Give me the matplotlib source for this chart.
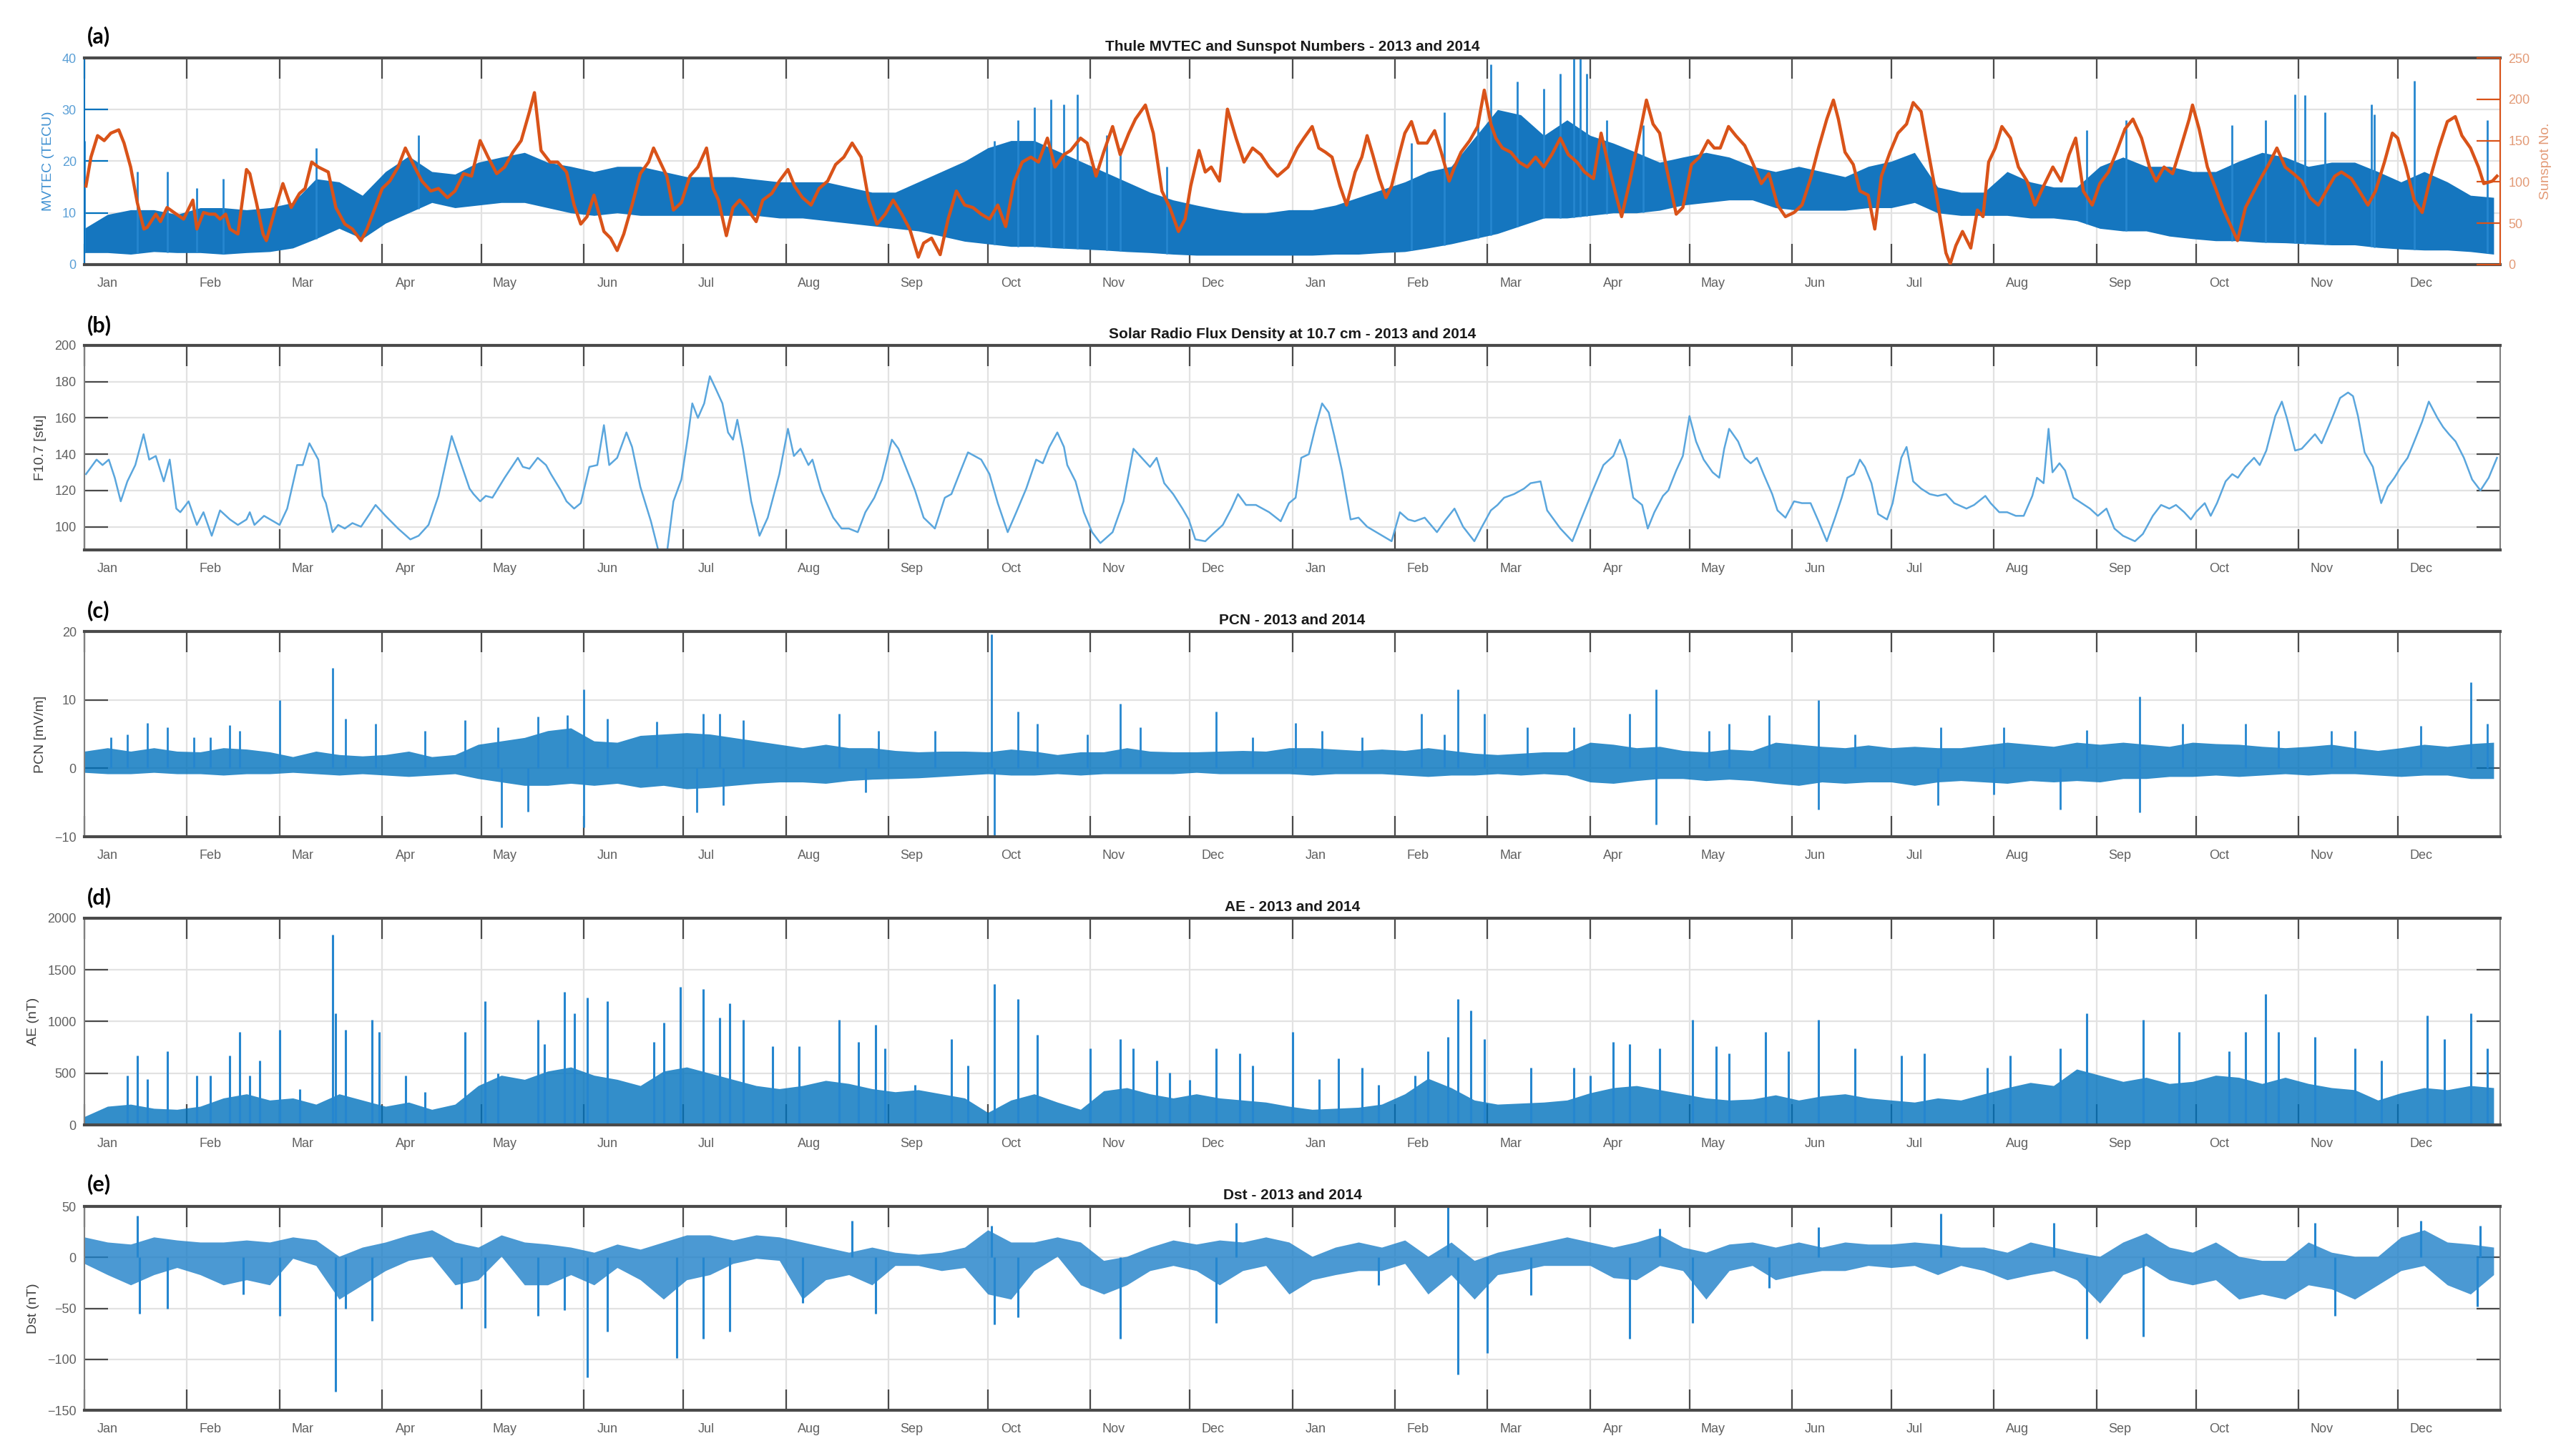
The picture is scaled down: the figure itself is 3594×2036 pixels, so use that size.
"""Thule MVTEC / sunspots, F10.7, PCN, AE and Dst for 2013-2014 (five stacked panels).

    python plot.py   ->  out.png
"""

import numpy as np
import matplotlib
matplotlib.use("Agg")
import matplotlib.pyplot as plt

# x values are days since 2013-01-01
MONTH_NAMES = ["Jan", "Feb", "Mar", "Apr", "May", "Jun",
               "Jul", "Aug", "Sep", "Oct", "Nov", "Dec"] * 2

# ---- (a) MVTEC: weekly envelope of the hourly trace (TECU) + isolated spikes
tec_hi = [7, 9.7, 10.6, 10.6, 9.7, 11, 11, 10.6, 11, 12,
          16.6, 16, 13.4, 18, 21, 18, 17.5, 19.8, 20.8, 21.7,
          19.8, 19, 18, 19, 19, 18, 17, 17, 17, 16.5,
          16, 16, 16, 15, 14, 14, 16, 18, 20, 22.6,
          24, 24, 22, 20, 18, 16, 14, 12.5, 11.5, 10.6,
          10, 10,
          10.6, 10.6, 11.5, 13, 14.5, 16, 18, 19, 24.5, 30,
          29, 25, 28, 25, 23.5, 21.7, 19.8, 20.8, 21.7, 20.8,
          19, 18, 19, 18, 17, 19, 20, 21.7, 15, 14,
          14, 18, 16, 15, 15, 19, 20.8, 19, 19, 18,
          18, 20, 21.7, 20.8, 19, 19.8, 19.8, 18, 16, 18,
          16, 13.4, 13]
tec_lo = [2.3, 2.3, 2, 2.5, 2.3, 2.3, 2, 2.3, 2.5, 3.2,
          5, 7, 5, 8, 10, 12, 11, 11.5, 12, 12,
          11, 10, 9.5, 10, 9.5, 9.5, 9.5, 9.5, 9.5, 9.5,
          9, 9, 8.5, 8, 7.5, 7, 6.5, 5.5, 4.5, 4,
          3.5, 3.5, 3.2, 3, 2.8, 2.5, 2.3, 2, 1.8, 1.8,
          1.8, 1.8,
          1.8, 1.8, 2, 2, 2.3, 2.5, 3.2, 4, 5, 6,
          7.5, 9, 9, 9.5, 10, 10, 10.5, 11.5, 12, 12.5,
          12.5, 11, 10.5, 10.5, 10.5, 11, 11, 12, 10, 9.5,
          9.5, 9.5, 9, 9, 8.5, 7, 6.5, 6.5, 5.5, 5,
          4.6, 4.6, 4.3, 4.2, 4, 3.8, 3.8, 3.3, 3, 2.8,
          2.8, 2.5, 2]
tec_spike_day = [0, 16, 25, 34, 42, 70, 101, 275, 282, 287,
                 292, 296, 300, 309, 313, 327, 401, 411, 421, 425,
                 433, 441, 446, 450, 452, 454, 460, 471, 605, 617,
                 649, 659, 668, 671, 677, 691, 692, 704, 726]
tec_spike_val = [24, 18, 18, 14.8, 16.6, 22.6, 25, 24, 28, 30.5,
                 32, 31, 33, 25, 22.6, 19, 23.5, 29.5, 27, 38.8,
                 35.5, 34, 37, 40, 40, 37, 28, 27, 26, 28,
                 27, 28, 33, 32.8, 29.5, 31, 29, 35.6, 28]

# ---- (a) sunspot number (right axis)
ssn_day = [0.5, 2, 4, 6, 8, 10.4, 12, 14, 16, 18,
           19, 21.6, 23, 25, 27.8, 30, 32.8, 34, 36, 37.7,
           39.5, 41, 42.7, 44, 46.4, 49, 50, 52, 54, 55,
           57.6, 60, 62.5, 65, 66.7, 68.7, 70.7, 73.7, 76, 78.7,
           81, 83.6, 85.4, 87.3, 90, 92.3, 94.8, 97, 99.8, 102,
           104.7, 107, 109.7, 112, 114.6, 117, 119.6, 122, 124.6, 127,
           129.5, 132, 134.5, 136, 138, 140.7, 143, 145.7, 148, 150,
           151.9, 154, 157, 159, 161, 163, 165.5, 168, 170.5, 172,
           174, 176, 178, 180.4, 183, 185.4, 188, 190, 191.6, 194,
           196, 198, 200, 203, 205, 207.7, 210, 212.6, 214.6, 217,
           219.6, 222, 224.6, 227, 229.5, 232, 234.7, 237, 239.5, 242,
           244.4, 247, 249.4, 252, 253.6, 256, 258.6, 261, 263.5, 266,
           268.5, 271, 273.5, 276, 278.4, 281, 283.4, 286, 288.3, 291,
           293.3, 296, 298, 301, 303, 305.7, 308, 310.7, 313, 315.6,
           317.6, 320.6, 323, 325.6, 328, 330.6, 332.6, 334.3, 336.8, 338.7,
           340.5, 343, 345.4, 348, 350.4, 353, 355.5, 358, 360.5, 363.7,
           366.5, 368.5, 371, 373, 375, 377, 379.4, 381.4, 384, 386,
           387.6, 389.3, 391.3, 393.3, 395, 397.5, 399, 401, 403, 405.7,
           408, 410, 412.4, 414, 416, 418.6, 421, 423, 425, 426.5,
           428.5, 431, 433.5, 436, 438.5, 441, 443.4, 446, 448.4, 451,
           453.3, 456, 458.3, 460.3, 462.8, 464.5, 467, 470, 472, 474,
           476, 478, 481, 483, 485.6, 488, 490.6, 492.5, 494.3, 496.8,
           499, 501.7, 504, 506.7, 509, 511.6, 514, 516.6, 519, 521.6,
           524, 526.5, 528.5, 530, 532, 534.5, 536.5, 539, 541, 543,
           545.6, 548, 550.6, 552.6, 555, 557.6, 560, 562.5, 563.8, 565.5,
           567.5, 570, 572, 573.7, 575.4, 577.4, 579.4, 582, 584.4, 587,
           589.4, 592, 594.8, 597.3, 599.7, 601.7, 604, 606.7, 609, 611.6,
           614, 616.6, 619, 621.6, 624, 626, 628.4, 631, 633.4, 636,
           637, 639, 641.5, 644, 646.4, 649, 650.6, 653, 655.6, 658,
           660, 662.5, 665, 667.5, 670, 672.5, 675, 677.4, 680, 682,
           685, 687.4, 690, 692.3, 695, 697.4, 699, 701.5, 704, 706.4,
           709, 711.4, 714, 716.4, 718.4, 721, 723.4, 725, 727.6, 729]
ssn_val = [95, 130, 156, 150, 159, 163, 147, 118, 75, 43,
           45, 61, 52, 69, 61, 55, 78, 43, 63, 61,
           61, 55, 61, 43, 37, 115, 110, 75, 37, 29,
           66, 98, 69, 86, 92, 124, 118, 112, 69, 49,
           43, 29, 43, 63, 92, 101, 118, 141, 118, 101,
           89, 92, 81, 89, 110, 107, 150, 130, 110, 118,
           136, 150, 185, 208, 138, 124, 124, 112, 72, 49,
           58, 84, 40, 32, 17, 37, 72, 110, 124, 141,
           124, 107, 66, 75, 107, 118, 141, 92, 78, 35,
           69, 78, 69, 52, 78, 86, 101, 115, 95, 81,
           72, 92, 101, 121, 130, 147, 130, 78, 49, 61,
           78, 61, 43, 9, 26, 32, 12, 55, 89, 72,
           69, 61, 55, 72, 46, 101, 124, 130, 124, 153,
           118, 133, 138, 153, 147, 107, 136, 167, 133, 159,
           176, 193, 159, 89, 69, 40, 55, 95, 138, 112,
           118, 101, 188, 153, 124, 141, 133, 118, 107, 118,
           141, 153, 167, 141, 136, 130, 95, 72, 112, 130,
           156, 133, 104, 81, 95, 136, 159, 173, 147, 147,
           162, 136, 101, 118, 136, 150, 167, 211, 170, 153,
           141, 136, 124, 118, 130, 118, 133, 153, 133, 124,
           112, 104, 159, 124, 84, 58, 101, 159, 199, 170,
           159, 118, 61, 69, 121, 130, 150, 141, 141, 167,
           156, 144, 124, 98, 110, 72, 58, 63, 72, 104,
           141, 176, 199, 176, 136, 121, 89, 84, 43, 107,
           136, 159, 170, 196, 185, 127, 75, 14, 1, 23,
           40, 20, 66, 58, 124, 141, 167, 153, 118, 101,
           72, 95, 118, 101, 133, 153, 89, 72, 98, 112,
           136, 164, 176, 153, 118, 101, 118, 110, 141, 176,
           193, 164, 118, 92, 66, 43, 29, 69, 89, 107,
           121, 141, 118, 110, 101, 81, 72, 89, 107, 112,
           104, 89, 72, 89, 124, 159, 153, 118, 78, 63,
           107, 141, 173, 179, 156, 141, 118, 98, 101, 107]

# ---- (b) F10.7 solar radio flux (sfu)
f107_day = [0.5, 3.7, 5.5, 7.4, 9.2, 11, 13, 15.4, 17.9, 19.6,
            21.6, 24, 25.8, 27.8, 29, 31.5, 34, 36, 38.5, 41,
            44, 46.4, 49, 50, 51.4, 54.3, 59, 61.3, 64.3, 66,
            68, 70.7, 72, 73, 75, 76.7, 78.7, 81, 83.6, 88,
            91, 94.8, 98.5, 101, 104, 107, 111, 113.4, 116.4, 117.6,
            119.6, 121.3, 123.3, 127, 131, 132.5, 134.5, 137, 139.5, 141,
            144, 145.7, 148, 150, 152.6, 155, 157, 158.6, 161, 163.8,
            165.5, 168, 171.2, 173.7, 176, 178, 180.4, 182.4, 183.7, 185.4,
            187.3, 189, 190.8, 192.8, 194.5, 196, 197.3, 199, 201.5, 204,
            206.5, 210, 212.6, 214.4, 216.4, 218.8, 220, 222.6, 226.3, 228.8,
            231, 233.7, 236, 238.7, 241, 244, 246, 248.6, 251, 253.6,
            257, 260, 262, 264.8, 267, 271, 273.5, 276, 279, 281.6,
            284.6, 287.6, 289.6, 291.6, 294, 296, 297, 299.5, 302, 304.5,
            307, 310.7, 314, 317, 320, 322, 324, 326.3, 329, 331.8,
            333.7, 335.7, 338.7, 341, 344, 346.6, 348.6, 351, 354, 358,
            361.5, 364, 366, 367.7, 370, 372, 374, 376, 377.7, 380,
            382.6, 385, 387.6, 391.3, 395, 397.5, 400, 402, 405, 408.7,
            411, 414, 416.6, 420, 422, 425, 427, 429, 432, 435,
            437, 440, 442, 446, 449.6, 452, 456, 459, 462, 464,
            466, 468, 470.7, 472.4, 474.4, 477, 478.6, 481, 483, 485,
            487, 489.3, 492, 494, 495.5, 497, 499.7, 501.7, 503.5, 505.4,
            507.4, 510, 511.6, 514, 516.6, 519, 521.6, 524, 526.5, 529,
            531, 532.7, 534.7, 536.5, 538, 540, 542, 544.7, 546.4, 549,
            550.6, 552.6, 555, 557.6, 560, 562.5, 565, 568.7, 571, 574.4,
            576, 578.6, 581, 583.6, 586, 588.6, 590, 592, 593.5, 594.7,
            596.8, 598.5, 601, 603.5, 606, 608.4, 611, 613.4, 616, 619.6,
            622, 625, 627.5, 630, 632, 634.5, 636.5, 638, 640.7, 642.5,
            644.4, 647, 649, 650.7, 653, 655.6, 657.3, 659.3, 662, 664,
            665.5, 668, 670, 672, 674, 676, 679, 681.6, 684, 685.5,
            687, 689, 691.5, 694, 696, 698, 700, 702, 704, 706.4,
            708.4, 711, 712.7, 714.5, 716.5, 719, 721.5, 724, 726.5, 729]
f107_val = [129, 137, 134, 137, 127, 114, 125, 134, 151, 137,
            139, 125, 137, 110, 108, 114, 101, 108, 95, 109,
            104, 101, 104, 108, 101, 106, 101, 110, 134, 134,
            146, 137, 117, 113, 97, 101, 99, 102, 100, 112,
            106, 99, 93, 95, 101, 117, 150, 137, 121, 118,
            114, 117, 116, 127, 138, 133, 132, 138, 134, 129,
            120, 114, 110, 113, 133, 134, 156, 134, 138, 152,
            144, 122, 103, 85, 85, 114, 126, 150, 168, 160,
            168, 183, 176, 168, 152, 148, 159, 143, 114, 95,
            105, 129, 154, 139, 143, 134, 137, 120, 105, 99,
            99, 97, 108, 116, 126, 148, 143, 131, 120, 105,
            99, 116, 118, 131, 141, 137, 129, 113, 97, 108,
            121, 137, 135, 144, 152, 144, 134, 125, 108, 97,
            91, 97, 114, 143, 137, 133, 138, 124, 118, 110,
            104, 93, 92, 96, 101, 110, 118, 112, 112, 108,
            103, 113, 116, 138, 140, 155, 168, 163, 150, 131,
            104, 105, 100, 96, 92, 108, 104, 103, 105, 97,
            103, 110, 100, 92, 99, 109, 112, 116, 118, 121,
            124, 125, 109, 99, 92, 103, 121, 134, 139, 148,
            137, 116, 112, 99, 108, 117, 120, 131, 139, 161,
            147, 137, 130, 127, 143, 154, 147, 138, 135, 138,
            129, 118, 109, 105, 114, 113, 113, 103, 92, 105,
            116, 127, 129, 137, 133, 124, 107, 104, 113, 138,
            144, 125, 121, 118, 117, 118, 113, 110, 112, 117,
            113, 108, 108, 106, 106, 117, 127, 124, 154, 130,
            135, 131, 116, 113, 110, 106, 110, 99, 95, 92,
            96, 106, 112, 110, 112, 108, 104, 108, 113, 106,
            113, 125, 129, 127, 133, 138, 134, 142, 161, 169,
            160, 142, 143, 147, 151, 146, 159, 171, 174, 172,
            161, 141, 133, 113, 122, 127, 133, 138, 147, 158,
            169, 160, 155, 151, 147, 138, 126, 120, 127, 138]

# ---- (c) PCN: weekly envelope (mV/m) + spikes
pcn_hi = [2.5, 3, 2.5, 3, 2.5, 2.4, 3, 2.8, 2.4, 1.7,
          2.5, 2, 1.8, 2, 2.5, 1.7, 2, 3.5, 4, 4.5,
          5.5, 5.9, 4, 3.8, 4.8, 5, 5.2, 5, 4.5, 4,
          3.5, 3, 3.5, 3, 3, 2.6, 2.4, 2.5, 2.5, 2.4,
          2.8, 2.5, 2, 2.4, 2.4, 3, 2.5, 2.4, 2.4, 2.5,
          2.6, 2.5,
          3, 3, 2.8, 2.6, 2.8, 2.6, 3, 2.6, 2.2, 2,
          2.2, 2.4, 2.4, 3.8, 3.5, 3, 3.2, 2.6, 2.4, 2.8,
          2.6, 3.8, 3.5, 3.2, 3, 3.4, 3, 3.2, 3, 3,
          3.4, 3.8, 3.5, 3.2, 3.8, 3.5, 3.8, 3.5, 3.2, 3.8,
          3.6, 3.5, 3.2, 3, 3.2, 3.5, 3, 2.6, 3, 3.5,
          3.2, 3.6, 3.8]
pcn_lo = [-0.6, -0.8, -0.8, -0.6, -0.8, -0.8, -1, -0.8, -0.8, -0.6,
          -0.8, -1, -0.8, -1, -1.2, -1, -0.8, -1.5, -2, -2.5,
          -2.5, -2.2, -2.5, -2.2, -2.8, -2.5, -3, -2.8, -2.5, -2.2,
          -2, -2, -2.2, -1.8, -1.6, -1.5, -1.4, -1.2, -1, -0.8,
          -1, -1, -0.8, -1, -0.8, -0.8, -0.8, -0.8, -0.6, -0.8,
          -0.8, -0.8,
          -0.8, -1, -0.8, -0.8, -0.8, -1, -1.2, -1, -1, -0.8,
          -1, -0.8, -1, -2, -2.2, -1.8, -1.5, -1.5, -1.8, -1.6,
          -1.8, -2.2, -2.5, -2, -2.2, -2, -2, -2.5, -2, -1.8,
          -2, -2.2, -1.8, -2, -1.8, -2, -1.5, -1.5, -1.2, -1.2,
          -1, -1.2, -1, -0.8, -1, -0.8, -0.8, -1, -1.2, -1,
          -1, -1.5, -1.5]
pcn_spike_day = [8, 13, 19, 25, 33, 38, 44, 47, 59, 75,
                 79, 88, 103, 115, 125, 137, 146, 151, 158, 173,
                 187, 192, 199, 228, 240, 257, 274, 282, 288, 303,
                 313, 319, 342, 353,
                 366, 374, 386, 404, 411, 415, 423, 436, 450, 467,
                 475, 491, 497, 509, 524, 535, 561, 580, 605, 621,
                 634, 653, 663, 679, 686, 706, 721, 726,
                 126, 134, 151, 185, 193, 236, 275, 475, 524, 560,
                 577, 597, 621]
pcn_spike_val = [4.5, 5, 6.6, 6, 4.5, 4.5, 6.3, 5.5, 10, 14.7,
                 7.3, 6.5, 5.5, 7, 6, 7.6, 7.8, 11.5, 7.3, 6.8,
                 8, 8, 7, 8, 5.5, 5.5, 19.6, 8.3, 6.5, 5,
                 9.4, 6, 8.3, 4.5,
                 6.6, 5.5, 4.5, 8, 5, 11.5, 8, 6, 6, 8,
                 11.5, 5.5, 6.5, 7.8, 10, 5, 6, 6, 5.6, 10.5,
                 6.5, 6.5, 5.5, 5.5, 5.5, 6.2, 12.6, 6.5,
                 -8.6, -6.3, -8.6, -6.4, -5.4, -3.5, -10.3, -8.2, -6, -5.4,
                 -3.8, -6, -6.4]

# ---- (d) AE: weekly upper envelope of the dense part (nT) + substorm peaks
ae_hi = [80, 180, 200, 160, 150, 180, 260, 300, 240, 260,
         200, 300, 240, 180, 220, 150, 200, 380, 480, 440,
         520, 560, 480, 440, 380, 520, 560, 500, 440, 380,
         350, 380, 430, 400, 350, 320, 340, 300, 260, 120,
         240, 300, 220, 150, 330, 360, 300, 260, 300, 260,
         240, 220,
         180, 150, 160, 170, 200, 300, 450, 360, 240, 200,
         210, 220, 240, 310, 360, 380, 340, 300, 260, 240,
         250, 290, 240, 280, 300, 260, 240, 220, 260, 240,
         300, 360, 410, 380, 540, 480, 420, 460, 400, 420,
         480, 460, 400, 460, 400, 360, 340, 240, 310, 360,
         340, 380, 360]
ae_spike_day = [13, 16, 19, 25, 34, 38, 44, 47, 50, 53,
                59, 65, 75, 76, 79, 87, 89, 97, 103, 115,
                121, 125, 137, 139, 145, 148, 152, 158, 172, 175,
                180, 187, 192, 195, 199, 208, 216, 228, 234, 239,
                242, 251, 262, 267, 275, 282, 288, 304, 313, 317,
                324, 328, 334, 342, 349, 353,
                365, 373, 379, 386, 391, 402, 406, 412, 415, 419,
                423, 437, 450, 455, 462, 467, 476, 486, 493, 497,
                508, 515, 524, 535, 549, 556, 575, 582, 597, 605,
                622, 633, 648, 653, 659, 663, 674, 686, 694, 708,
                713, 721, 726]
ae_spike_val = [480, 670, 440, 715, 480, 480, 670, 900, 480, 620,
                920, 345, 1843, 1080, 920, 1014, 900, 480, 320, 900,
                1200, 500, 1014, 780, 1290, 1080, 1233, 1200, 806, 990,
                1336, 1313, 1037, 1175, 1014, 760, 760, 1014, 806, 968,
                737, 390, 830, 576, 1360, 1220, 875, 737, 830, 737,
                622, 507, 438, 737, 690, 576,
                900, 440, 645, 553, 390, 480, 715, 850, 1220, 1106,
                830, 553, 553, 480, 806, 783, 737, 1014, 760, 690,
                900, 715, 1014, 737, 668, 690, 553, 668, 737, 1080,
                1014, 900, 715, 900, 1267, 900, 850, 737, 622, 1060,
                830, 1080, 737]

# ---- (e) Dst: weekly envelope (nT) + storm minima / sudden commencements
dst_hi = [20, 15, 13, 20, 17, 15, 15, 17, 15, 20,
          17, 1, 10, 15, 22, 27, 15, 10, 22, 15,
          13, 10, 5, 13, 8, 15, 22, 22, 17, 22,
          20, 15, 10, 5, 10, 5, 3, 5, 10, 27,
          15, 15, 20, 15, -3, 1, 10, 17, 13, 17,
          15, 20,
          15, 1, 10, 15, 10, 17, 1, 15, -3, 5,
          10, 15, 20, 15, 10, 15, 22, 10, 5, 13,
          15, 10, 15, 10, 15, 13, 13, 15, 13, 10,
          10, 5, 15, 10, 5, 1, 15, 24, 10, 5,
          15, 1, -3, -3, 15, 5, 1, 1, 20, 27,
          15, 13, 10]
dst_lo = [-6, -17, -27, -17, -10, -17, -27, -22, -27, -1,
          -8, -41, -27, -13, -3, 1, -27, -22, 1, -27,
          -27, -17, -27, -10, -22, -41, -22, -17, -6, -1,
          -3, -41, -22, -17, -27, -8, -8, -13, -10, -36,
          -41, -13, 1, -27, -36, -27, -13, -8, -13, -27,
          -13, -8,
          -36, -22, -17, -13, -13, -6, -36, -17, -41, -17,
          -13, -8, -8, -8, -20, -22, -8, -13, -41, -13,
          -8, -22, -17, -13, -13, -8, -10, -8, -17, -8,
          -13, -22, -17, -13, -22, -45, -17, -8, -22, -27,
          -22, -41, -36, -41, -27, -31, -41, -27, -13, -8,
          -27, -36, -17]
dst_spike_day = [16.6, 25, 48, 59, 76, 79, 87, 114, 121, 137,
                 145, 152, 158, 179, 187, 195, 217, 239, 275, 282,
                 313, 342,
                 391, 415, 424, 437, 467, 486, 509, 605, 622, 680,
                 723,
                 16, 232, 274, 348, 412, 476, 524, 561, 595, 674,
                 706, 724]
dst_spike_val = [-55, -50, -36, -57, -132, -50, -62, -50, -69, -57,
                 -52, -118, -73, -99, -80, -73, -45, -55, -66, -59,
                 -80, -64,
                 -27, -115, -94, -37, -80, -64, -30, -80, -78, -57,
                 -48,
                 41, 36, 31, 34, 50, 28, 30, 43, 34, 34,
                 36, 31]

BLUE = "#0072BD"
BAND = "#1576bf"
SPIKE = "#2586cf"
ORANGE = "#D95319"
GRID = "#e2e2e2"
FRAME = "#4a4a4a"
TICK_TXT = "#606060"
LABEL_TXT = "#404040"

plt.rcParams["font.family"] = ["Liberation Sans", "DejaVu Sans"]

t0 = np.datetime64("2013-01-01")
months = np.arange("2013-01", "2015-01", dtype="datetime64[M]")
month_start = (months.astype("datetime64[D]") - t0).astype(float)
month_label = month_start + 7
week_day = 7.0 * np.arange(len(tec_hi))


def frame(ax, title, ylabel, ylim, yticks, label_color=LABEL_TXT,
          tick_color=TICK_TXT, right=True):
    ax.set_xlim(0, 730)
    ax.set_ylim(*ylim)
    ax.set_yticks(yticks)
    ax.set_xticks(month_start, [""] * len(month_start))
    ax.set_xticks(month_label, MONTH_NAMES, minor=True)
    ax.tick_params(axis="x", which="major", direction="in", length=21,
                   width=1.6, color=FRAME, top=True, bottom=True)
    ax.tick_params(axis="x", which="minor", length=0, pad=13,
                   labelsize=13, labelcolor=TICK_TXT)
    ax.tick_params(axis="y", direction="in", length=24, width=1.6,
                   color=FRAME, labelsize=13, labelcolor=tick_color,
                   pad=8, right=right)
    ax.grid(True, which="major", color=GRID, lw=1.6)
    ax.set_axisbelow(True)
    for side in ("top", "bottom"):
        ax.spines[side].set_linewidth(3)
        ax.spines[side].set_color(FRAME)
    for side in ("left", "right"):
        ax.spines[side].set_linewidth(1.5)
        ax.spines[side].set_color("#808080")
    ax.set_title(title, fontsize=15, fontweight="bold", pad=7, color="#1a1a1a")
    ax.set_ylabel(ylabel, fontsize=14, color=label_color, labelpad=8)


fig = plt.figure(figsize=(35.94, 20.36), dpi=100)
left, width = 0.0328, 0.9397
boxes = [(0.8183, 0.1419), (0.6223, 0.1405), (0.4253, 0.1410),
         (0.2274, 0.1420), (0.0314, 0.1400)]
axes = [fig.add_axes([left, y0, width, h]) for y0, h in boxes]
ax_a, ax_b, ax_c, ax_d, ax_e = axes

# (a) MVTEC + sunspots
ax_a.fill_between(week_day, tec_lo, tec_hi, color=BAND, lw=0)
ax_a.vlines(tec_spike_day, np.interp(tec_spike_day, week_day, tec_lo),
            tec_spike_val, color=SPIKE, lw=2)
frame(ax_a, "Thule MVTEC and Sunspot Numbers - 2013 and 2014", "MVTEC (TECU)",
      (0, 40), [0, 10, 20, 30, 40], label_color="#3d8fd1",
      tick_color="#5a9fd6", right=False)
ax_a.spines["left"].set_color(BLUE)
ax_a.tick_params(axis="y", color=BLUE)

ax_s = ax_a.twinx()
ax_s.plot(ssn_day, ssn_val, color=ORANGE, lw=3.2)
ax_s.set_ylim(0, 250)
ax_s.set_yticks([0, 50, 100, 150, 200, 250])
ax_s.tick_params(axis="y", direction="in", length=24, width=1.6,
                 color=ORANGE, labelsize=13, labelcolor="#e39a76", pad=8)
ax_s.spines["right"].set_color(ORANGE)
ax_s.spines["right"].set_linewidth(1.5)
for side in ("top", "bottom", "left"):
    ax_s.spines[side].set_visible(False)
ax_s.set_ylabel("Sunspot No.", fontsize=14, color="#e39a76", labelpad=10)

# (b) F10.7
ax_b.plot(f107_day, f107_val, color="#5aa6dd", lw=1.8)
frame(ax_b, "Solar Radio Flux Density at 10.7 cm - 2013 and 2014", "F10.7 [sfu]",
      (87.2, 200), [100, 120, 140, 160, 180, 200])

# (c) PCN
ax_c.fill_between(week_day, pcn_lo, pcn_hi, color=BLUE, alpha=0.8, lw=0)
ax_c.vlines(pcn_spike_day, 0, pcn_spike_val, color=SPIKE, lw=2)
frame(ax_c, "PCN - 2013 and 2014", "PCN [mV/m]", (-10, 20), [-10, 0, 10, 20])

# (d) AE
ax_d.fill_between(week_day, 0, ae_hi, color=BLUE, alpha=0.8, lw=0)
ax_d.vlines(ae_spike_day, 0, ae_spike_val, color=SPIKE, lw=2.2)
frame(ax_d, "AE - 2013 and 2014", "AE (nT)", (0, 2000), [0, 500, 1000, 1500, 2000])

# (e) Dst
ax_e.fill_between(week_day, dst_lo, dst_hi, color="#1e80c8", alpha=0.8, lw=0)
ax_e.vlines(dst_spike_day, 0, dst_spike_val, color=SPIKE, lw=2.2)
frame(ax_e, "Dst - 2013 and 2014", "Dst (nT)", (-150, 50), [-150, -100, -50, 0, 50])

for tag, y in zip("abcde", (0.975, 0.7765, 0.5806, 0.3836, 0.1866)):
    fig.text(0.034, y, f"({tag})", fontsize=22, fontweight="bold",
             family=["Lato", "DejaVu Sans"], va="center", ha="left")

fig.savefig("out.png", dpi=100)
